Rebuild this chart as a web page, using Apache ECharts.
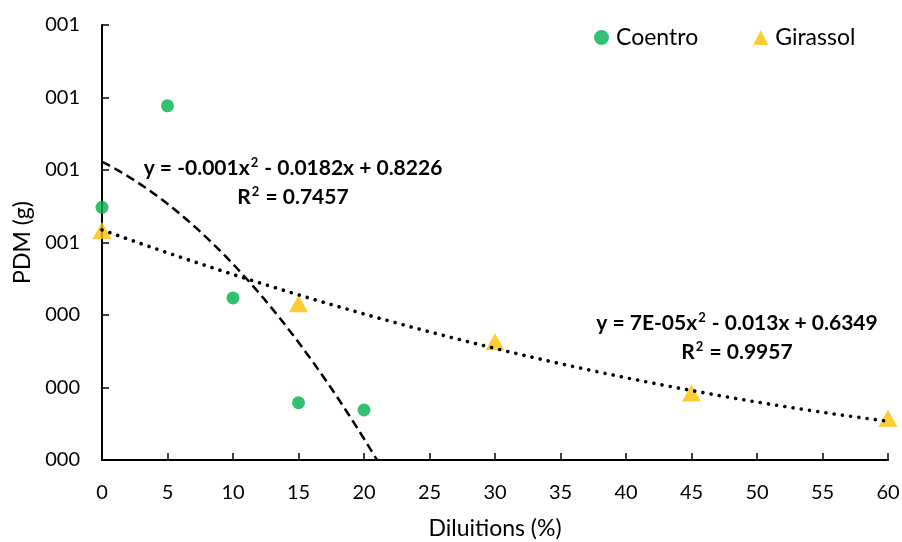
<!DOCTYPE html>
<html><head><meta charset="utf-8">
<script src="https://cdn.jsdelivr.net/npm/echarts@6/dist/echarts.min.js"></script>
<style>html,body{margin:0;padding:0;background:#fff}#c{width:902px;height:542px}</style>
</head><body><div id="c"></div>
<script>
// ---- data ----
const coentroX = [0, 5, 10, 15, 20];
const coentroY = [0.697, 0.977, 0.447, 0.158, 0.138];
const girassolX = [0, 15, 30, 45, 60];
const girassolY = [0.633, 0.431, 0.326, 0.185, 0.115];
// polynomial trendline coefficients shown on the chart [a, b, c] for a*x^2 + b*x + c
const coentroTrend = [-0.001, -0.0182, 0.8226];
const girassolTrend = [0.00007, -0.013, 0.6349];
const coentroTrendRange = [0, 21];
const girassolTrendRange = [0, 60];
// equation labels, as rich text ({s|2} = superscript 2)
const coentroEq = ['{b|y = -0.001x}{s|2}{b| - 0.0182x + 0.8226}', '{b|R}{s|2}{b| = 0.7457}'];
const girassolEq = ['{b|y = 7E-05x}{s|2}{b| - 0.013x + 0.6349}', '{b|R}{s|2}{b| = 0.9957}'];
const seriesNames = ['Coentro', 'Girassol'];
const xAxisTitle = 'Diluitions (%)';
const yAxisTitle = 'PDM (g)';

const FONT = 'Lato';
function curve(coef, range) {
  const pts = [];
  for (let x = range[0]; x <= range[1] + 1e-9; x += 0.25) {
    pts.push([x, coef[0] * x * x + coef[1] * x + coef[2]]);
  }
  return pts;
}
const chart = echarts.init(document.getElementById('c'), null, {renderer: 'canvas'});
const rich = {
  b: {fontFamily: FONT, fontWeight: 'bold', fontSize: 21, color: '#000', lineHeight: 24},
  s: {fontFamily: FONT, fontWeight: 'bold', fontSize: 13, color: '#000', lineHeight: 24, verticalAlign: 'top', padding: [0, 1, 8, 1]}
};
function eqText(txt, x, y) {
  return {type: 'text', x: x, y: y, style: {text: txt, rich: rich, align: 'center', verticalAlign: 'middle',
    fontFamily: FONT, fontWeight: 'bold', fontSize: 21, fill: '#000'}};
}
chart.setOption({
  animation: false,
  backgroundColor: '#fff',
  grid: {left: 102, top: 25, width: 786, height: 435, containLabel: false, outerBoundsMode: 'none'},
  legend: {
    data: [{name: seriesNames[0], icon: 'circle'}, {name: seriesNames[1], icon: 'triangle'}],
    left: 589, top: 21, itemWidth: 15, itemHeight: 15, itemGap: 55,
    textStyle: {fontFamily: FONT, fontSize: 23, color: '#000', padding: [0, 0, 0, 2]}
  },
  xAxis: {
    type: 'value', min: 0, max: 60, interval: 5,
    name: xAxisTitle, nameLocation: 'middle', nameGap: 57,
    nameTextStyle: {fontFamily: FONT, fontSize: 23, color: '#000'},
    axisLine: {lineStyle: {color: '#000', width: 2}},
    axisTick: {inside: true, length: 7, lineStyle: {color: '#000', width: 1.5}},
    axisLabel: {fontFamily: FONT, fontSize: 20, color: '#000', margin: 23},
    splitLine: {show: false}
  },
  yAxis: {
    type: 'value', min: 0, max: 1.2, interval: 0.2,
    name: yAxisTitle, nameLocation: 'middle', nameGap: 68, nameRotate: 90,
    nameTextStyle: {fontFamily: FONT, fontSize: 23, color: '#000'},
    axisLine: {show: true, lineStyle: {color: '#000', width: 2}},
    axisTick: {show: true, inside: true, length: 7, lineStyle: {color: '#000', width: 1.5}},
    axisLabel: {fontFamily: FONT, fontSize: 20, color: '#000', margin: 22,
      formatter: v => String(Math.round(v)).padStart(3, '0')},
    splitLine: {show: false}
  },
  series: [
    {name: seriesNames[0], type: 'scatter', symbol: 'circle', symbolSize: 13, z: 2,
     itemStyle: {color: '#00B050'}, data: coentroX.map((x, i) => [x, coentroY[i]])},
    {name: seriesNames[1], type: 'scatter', symbol: 'triangle', symbolSize: [19, 17], z: 2,
     itemStyle: {color: '#FFC000'}, data: girassolX.map((x, i) => [x, girassolY[i]])},
    {name: 'coentroTrend', type: 'line', showSymbol: false, symbol: 'none', z: 3, clip: true, smooth: false,
     lineStyle: {color: '#000', width: 2.5, type: [9, 5]}, data: curve(coentroTrend, coentroTrendRange)},
    {name: 'girassolTrend', type: 'line', showSymbol: false, symbol: 'none', z: 3, clip: true,
     lineStyle: {color: '#000', width: 3.6, type: [0.01, 8.3], cap: 'round'}, data: curve(girassolTrend, girassolTrendRange)}
  ],
  graphic: [
    eqText(coentroEq[0], 293, 168),
    eqText(coentroEq[1], 293, 197),
    eqText(girassolEq[0], 737, 323),
    eqText(girassolEq[1], 737, 352)
  ]
});
</script></body></html>
